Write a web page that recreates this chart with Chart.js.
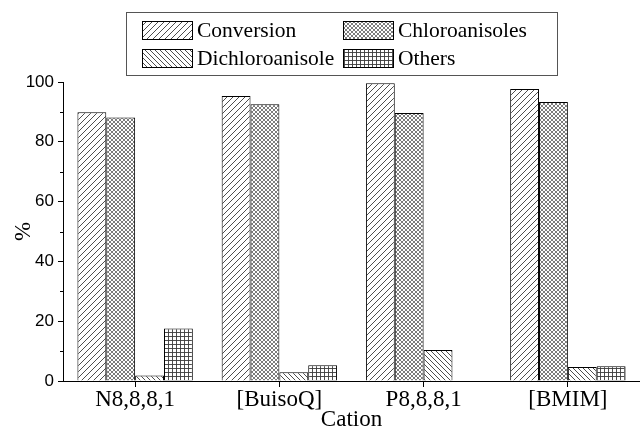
<!DOCTYPE html>
<html>
<head>
<meta charset="utf-8">
<script src="https://cdn.jsdelivr.net/npm/chart.js@4.4.1/dist/chart.umd.min.js"></script>
<style>
  html, body { margin: 0; padding: 0; background: #fff; }
  #wrap { width: 640px; height: 431px; position: relative; }
</style>
</head>
<body>
<div id="wrap"><canvas id="c" width="640" height="431"></canvas></div>
<script>
const categories = ['N8,8,8,1', '[BuisoQ]', 'P8,8,8,1', '[BMIM]'];
const seriesNames = ['Conversion', 'Chloroanisoles', 'Dichloroanisole', 'Others'];
const conversion = [89.9, 95.3, 99.6, 97.7];
const chloroanisoles = [88.1, 92.6, 89.6, 93.3];
const dichloroanisole = [1.8, 2.9, 10.4, 4.7];
const others = [17.6, 5.3, 0, 4.9];
const yTicks = [0, 20, 40, 60, 80, 100];

const SERIF = '"Liberation Serif", "Times New Roman", serif';
const SANS = '"Liberation Sans", Arial, sans-serif';

function makePattern(kind) {
  const s = kind === 'fwd' ? 6 : (kind === 'back' ? 5 : 4);
  const c = document.createElement('canvas');
  c.width = s; c.height = s;
  const g = c.getContext('2d');
  g.fillStyle = '#fff';
  g.fillRect(0, 0, s, s);
  g.strokeStyle = kind === 'cross' ? '#5a5a5a' : '#3a3a3a';
  g.lineWidth = kind === 'cross' ? 0.8 : 0.9;
  g.beginPath();
  if (kind === 'fwd' || kind === 'cross') {
    g.moveTo(-1, s + 1); g.lineTo(s + 1, -1);
    g.moveTo(-1, 1); g.lineTo(1, -1);
    g.moveTo(s - 1, s + 1); g.lineTo(s + 1, s - 1);
  }
  if (kind === 'back' || kind === 'cross') {
    g.moveTo(-1, -1); g.lineTo(s + 1, s + 1);
    g.moveTo(s - 1, -1); g.lineTo(s + 1, 1);
    g.moveTo(-1, s - 1); g.lineTo(1, s + 1);
  }
  if (kind === 'grid') {
    g.moveTo(0, 0.5); g.lineTo(s, 0.5);
    g.moveTo(0.5, 0); g.lineTo(0.5, s);
  }
  g.stroke();
  return g.createPattern(c, 'repeat');
}

const ctx = document.getElementById('c').getContext('2d');
const patterns = [makePattern('fwd'), makePattern('cross'), makePattern('back'), makePattern('grid')];
const values = [conversion, chloroanisoles, dichloroanisole, others];

const minorTicks = {
  id: 'minorTicks',
  afterDraw(chart) {
    const y = chart.scales.y;
    const c = chart.ctx;
    c.save();
    c.strokeStyle = '#000';
    c.lineWidth = 1;
    for (let v = 10; v < 100; v += 20) {
      const py = Math.round(y.getPixelForValue(v)) + 0.5;
      c.beginPath();
      c.moveTo(y.right - 3, py);
      c.lineTo(y.right, py);
      c.stroke();
    }
    c.restore();
  }
};

const boxLegend = {
  id: 'boxLegend',
  afterDraw(chart) {
    const c = chart.ctx;
    c.save();
    c.strokeStyle = '#555';
    c.lineWidth = 1;
    c.strokeRect(126.5, 12.5, 431, 63);
    const cols = [142, 343];
    const rows = [21, 49];
    chart.data.datasets.forEach((ds, i) => {
      const x = cols[i % 2];
      const y = rows[Math.floor(i / 2)];
      c.fillStyle = ds.backgroundColor;
      c.fillRect(x, y, 50, 18);
      c.strokeStyle = '#000';
      c.strokeRect(x + 0.5, y + 0.5, 50, 18);
      c.fillStyle = '#000';
      c.font = '21.5px ' + SERIF;
      c.textBaseline = 'middle';
      c.textAlign = 'left';
      c.fillText(ds.label, x + 55, y + 10);
    });
    c.restore();
  }
};

new Chart(ctx, {
  type: 'bar',
  data: {
    labels: categories,
    datasets: seriesNames.map((name, i) => ({
      label: name,
      data: values[i],
      backgroundColor: patterns[i],
      borderColor: '#000',
      borderWidth: 1,
      categoryPercentage: 0.8,
      barPercentage: 1.0
    }))
  },
  options: {
    responsive: false,
    animation: false,
    devicePixelRatio: 1,
    layout: { padding: { top: 82, right: 0, left: 0, bottom: 0 } },
    plugins: { legend: { display: false }, tooltip: { enabled: false } },
    scales: {
      x: {
        grid: { display: true, drawOnChartArea: false, offset: false, tickLength: 6, color: '#000' },
        border: { color: '#000', width: 1 },
        ticks: { color: '#000', font: { family: SERIF, size: 23 }, padding: -1, maxRotation: 0 },
        title: { display: true, text: 'Cation', color: '#000', font: { family: SERIF, size: 23 }, padding: { top: 0, bottom: -3 } },
        afterFit(s) { s.height = 50; }
      },
      y: {
        min: 0, max: 100,
        afterBuildTicks(s) { s.ticks = yTicks.map(v => ({ value: v })); },
        grid: { display: true, drawOnChartArea: false, tickLength: 5, color: '#000' },
        border: { color: '#000', width: 1 },
        ticks: { color: '#000', font: { family: SANS, size: 17 }, padding: 4 },
        title: { display: true, text: '%', color: '#000', font: { family: SERIF, size: 23 }, padding: { top: 10, bottom: 0 } },
        afterFit(s) { s.width = 63; }
      }
    }
  },
  plugins: [minorTicks, boxLegend]
});
</script>
</body>
</html>
